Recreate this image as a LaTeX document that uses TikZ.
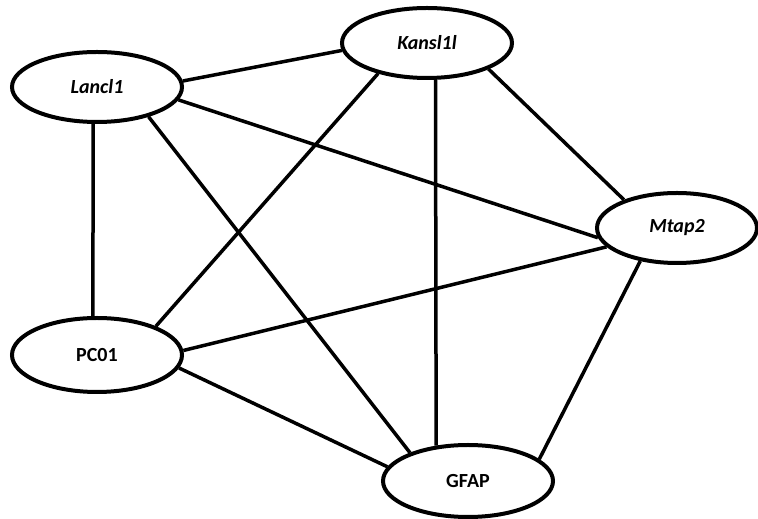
\documentclass[tikz,border=0pt]{standalone}
\usepackage{fontspec}
\setmainfont{Carlito}
\usetikzlibrary{shapes.geometric}
\begin{document}
\begin{tikzpicture}[x=1pt,y=1pt,
  gene/.style={ellipse,draw,line width=4pt,minimum width=170pt,minimum height=70pt,inner sep=0pt,font=\fontsize{20}{22}\selectfont\bfseries},
  link/.style={line width=3.5pt}]
\useasboundingbox (0,0) rectangle (758,519);
\node[gene] (lan) at (97,432) {\itshape Lancl1};
\node[gene] (kan) at (427,476) {\itshape Kansl1l};
\node[gene,minimum width=160pt] (mta) at (677,291) {\itshape Mtap2};
\node[gene,minimum height=74pt] (pc) at (97,164) {PC01};
\node[gene,minimum height=72pt] (gf) at (468,38) {GFAP};
\draw[link] (lan.4) -- (kan.185);
\draw[link] (lan.-96) -- (pc.96);
\draw[link] (lan.-30) -- (gf.154);
\draw[link] (lan.-9) -- (mta.187);
\draw[link] (kan.212) -- (pc.26);
\draw[link] (kan.-77) -- (gf.132);
\draw[link] (kan.-23) -- (mta.152);
\draw[link] (mta.195) -- (pc.3);
\draw[link] (mta.222) -- (gf.17);
\draw[link] (pc.-9) -- (gf.170);
\end{tikzpicture}
\end{document}
